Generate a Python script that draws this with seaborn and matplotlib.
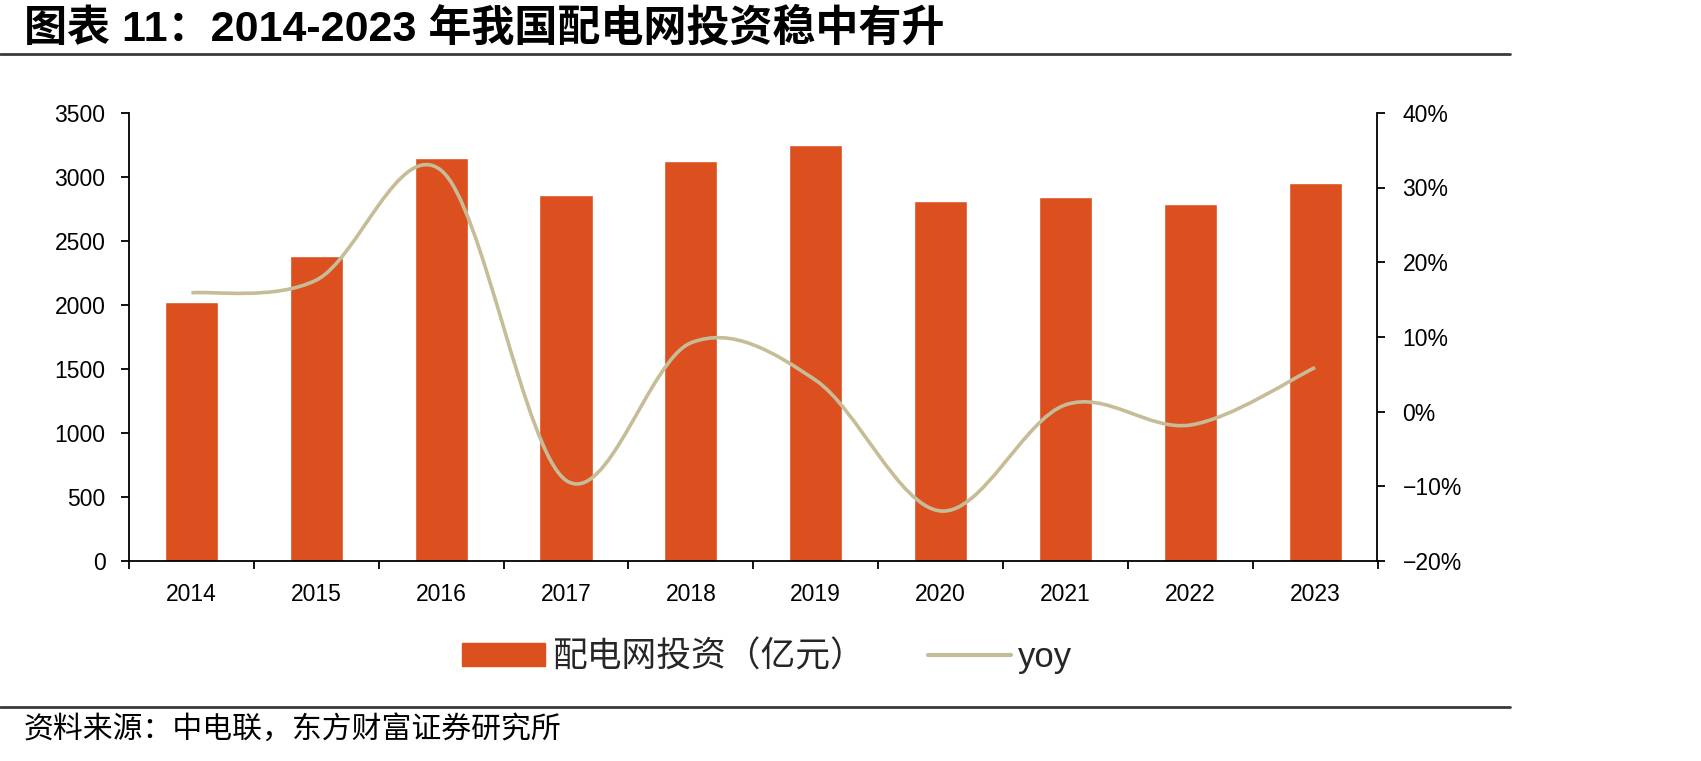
import numpy as np
import pandas as pd
import matplotlib
matplotlib.use("Agg")
import matplotlib.pyplot as plt
import seaborn as sns
from matplotlib.path import Path
from matplotlib.patches import PathPatch, Patch
from matplotlib.lines import Line2D
from matplotlib.ticker import FuncFormatter, MultipleLocator

# data
years = ["2014", "2015", "2016", "2017", "2018", "2019", "2020", "2021", "2022", "2023"]
invest = [2022, 2378, 3145, 2860, 3120, 3250, 2815, 2840, 2790, 2955]  # 亿元
yoy = [15.9, 17.6, 32.3, -9.2, 9.2, 4.2, -13.3, 0.9, -1.8, 5.9]  # %

title = "图表 11：2014-2023 年我国配电网投资稳中有升"
source = "资料来源：中电联，东方财富证券研究所"
bar_label = "配电网投资（亿元）"
line_label = "yoy"

BAR = "#DC4F1E"
LINE = "#C6BD98"
W, H = 1701, 761

sns.set_theme(style="ticks")
plt.rcParams["font.family"] = ["Liberation Sans", "Noto Sans CJK SC"]

fig = plt.figure(figsize=(W / 100, H / 100), dpi=100)
ax = fig.add_axes([129 / W, 1 - 561 / H, (1377.5 - 129) / W, (561 - 112.8) / H])

df = pd.DataFrame({"year": years, "invest": invest})
sns.barplot(data=df, x="year", y="invest", color=BAR, width=0.425,
            saturation=1, ax=ax)
ax.set_xlim(-0.5, len(years) - 0.5)
ax.set_ylim(0, 3500)
ax.yaxis.set_major_locator(MultipleLocator(500))
ax.set_xlabel("")
ax.set_ylabel("")
ax.spines["top"].set_visible(False)
ax.spines["right"].set_visible(False)
for s in ["left", "bottom"]:
    ax.spines[s].set_color("black")
    ax.spines[s].set_linewidth(1.3)
ax.tick_params(axis="y", length=6, width=1.3, pad=11, labelsize=16.5,
               color="black", labelcolor="black")
ax.set_xticks(np.arange(-0.5, len(years), 1), minor=True)
ax.tick_params(axis="x", which="major", length=0, pad=16, labelsize=16.5,
               labelcolor="black")
ax.tick_params(axis="x", which="minor", length=6, width=1.3, color="black")

# yoy on the right axis, smoothed like the spreadsheet line
ax2 = ax.twinx()
ax2.set_ylim(-20, 40)
ax2.yaxis.set_major_locator(MultipleLocator(10))
ax2.yaxis.set_major_formatter(
    FuncFormatter(lambda v, _: f"{v:.0f}%".replace("-", "\u2212")))
for s in ["top", "left", "bottom"]:
    ax2.spines[s].set_visible(False)
ax2.spines["right"].set_color("black")
ax2.spines["right"].set_linewidth(1.3)
ax2.tick_params(axis="y", length=6, width=1.3, pad=12, labelsize=16.5,
                color="black", labelcolor="black")

xs = np.arange(len(yoy), dtype=float)
ys = np.array(yoy, dtype=float)
n = len(ys)
verts = [(xs[0], ys[0])]
codes = [Path.MOVETO]
for i in range(n - 1):
    a = i - 1 if i > 0 else i
    b = i + 2 if i + 2 < n else i + 1
    c1 = (xs[i] + (xs[i + 1] - xs[a]) / 6, ys[i] + (ys[i + 1] - ys[a]) / 6)
    c2 = (xs[i + 1] - (xs[b] - xs[i]) / 6, ys[i + 1] - (ys[b] - ys[i]) / 6)
    verts += [c1, c2, (xs[i + 1], ys[i + 1])]
    codes += [Path.CURVE4] * 3
ax2.add_patch(PathPatch(Path(verts, codes), fill=False, edgecolor=LINE,
                        lw=2.6, capstyle="butt", zorder=3))

# legend
handles = [Patch(facecolor=BAR, edgecolor=BAR),
           Line2D([], [], color=LINE, lw=3)]
fig.legend(handles, [bar_label, line_label], loc="center",
           bbox_to_anchor=(767 / W, 1 - 657 / H), ncol=2, frameon=False,
           fontsize=25, handlelength=2.4, handleheight=0.63,
           handletextpad=0.2, columnspacing=1.8)

# title, rules and source
fig.text(24 / W, 1 - 29 / H, title, fontsize=31, fontweight="bold",
         ha="left", va="center", color="black")
fig.add_artist(Line2D([0, 1510 / W], [1 - 54 / H] * 2, color="#3a3a3a", lw=2))
fig.add_artist(Line2D([0, 1510 / W], [1 - 707 / H] * 2, color="#3a3a3a", lw=2))
fig.text(24 / W, 1 - 729 / H, source, fontsize=21.5, ha="left", va="center",
         family=["Noto Sans CJK SC"], color="black")

fig.savefig("out.png", dpi=100)
